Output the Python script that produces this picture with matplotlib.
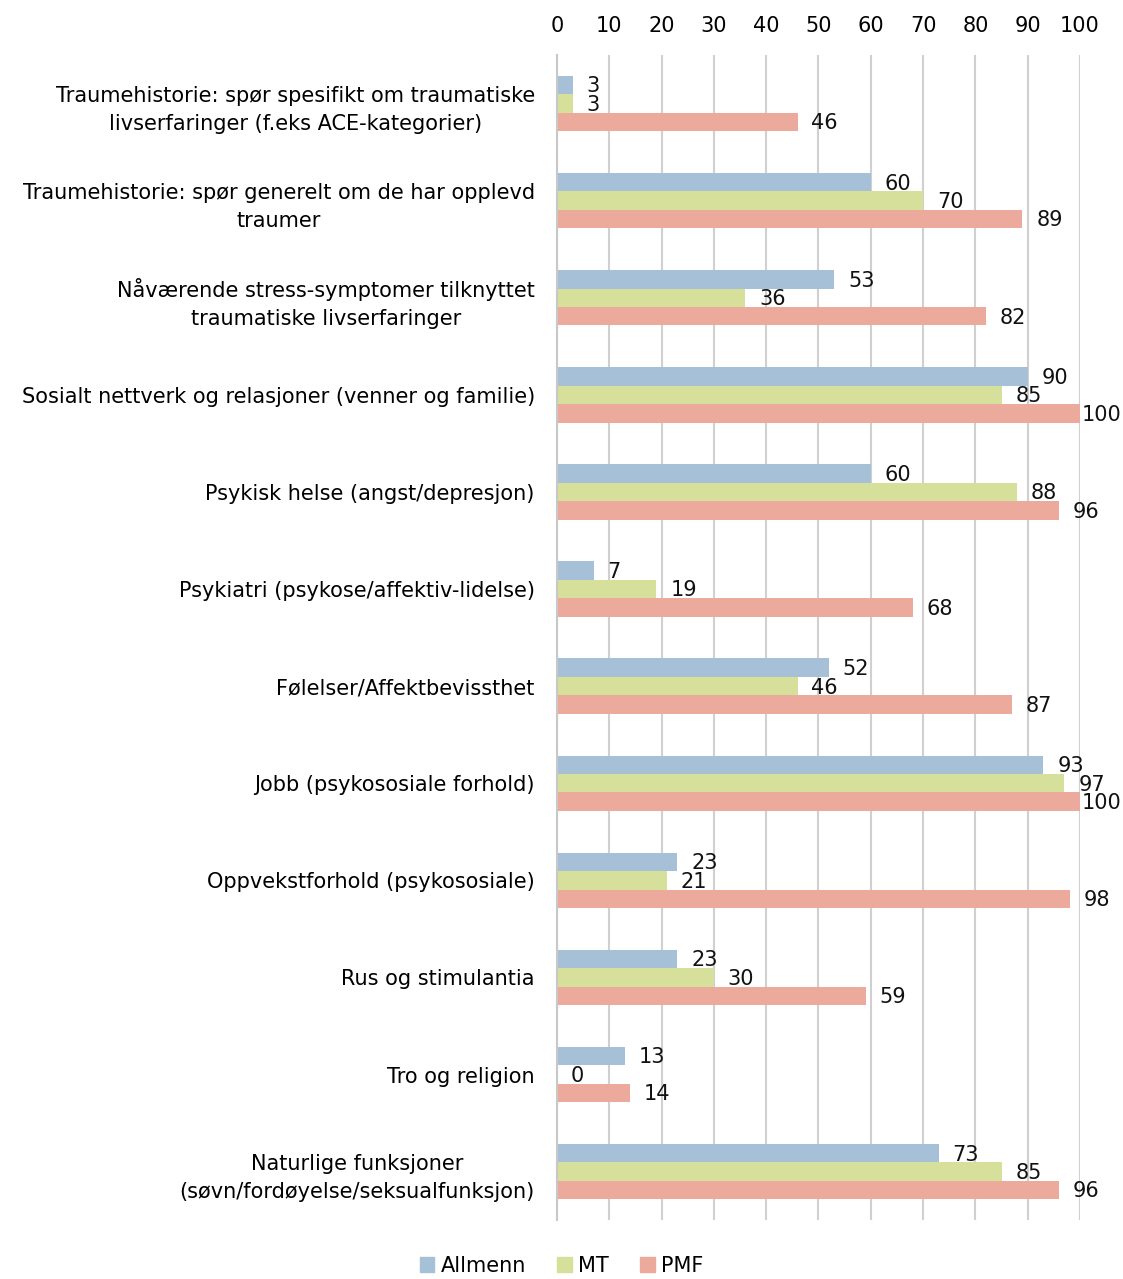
import numpy as np
import matplotlib
matplotlib.use("Agg")
import matplotlib.pyplot as plt

# data
categories = [
    "Traumehistorie: spør spesifikt om traumatiske\nlivserfaringer (f.eks ACE-kategorier)",
    "Traumehistorie: spør generelt om de har opplevd\ntraumer",
    "Nåværende stress-symptomer tilknyttet\ntraumatiske livserfaringer",
    "Sosialt nettverk og relasjoner (venner og familie)",
    "Psykisk helse (angst/depresjon)",
    "Psykiatri (psykose/affektiv-lidelse)",
    "Følelser/Affektbevissthet",
    "Jobb (psykososiale forhold)",
    "Oppvekstforhold (psykososiale)",
    "Rus og stimulantia",
    "Tro og religion",
    "Naturlige funksjoner\n(søvn/fordøyelse/seksualfunksjon)",
]
allmenn = [3, 60, 53, 90, 60, 7, 52, 93, 23, 23, 13, 73]
mt = [3, 70, 36, 85, 88, 19, 46, 97, 21, 30, 0, 85]
pmf = [46, 89, 82, 100, 96, 68, 87, 100, 98, 59, 14, 96]

series = [("Allmenn", allmenn, "#A5C0D7"),
          ("MT", mt, "#D6E09B"),
          ("PMF", pmf, "#ECAA9C")]

plt.rcParams['font.family'] = ['DejaVu Sans']

fig = plt.figure(figsize=(11.23, 12.79), dpi=100)
ax = fig.add_axes([0.496, 0.046, 0.4657, 0.911])

y = np.arange(len(categories))
h = 0.19
for i, (name, vals, col) in enumerate(series):
    pos = y + (i - 1) * h
    ax.barh(pos, vals, height=h, color=col, label=name, zorder=2)
    for yy, v in zip(pos, vals):
        # labels at the right edge are pushed in like in Excel
        off = 1 if v >= 100 else 10
        ax.annotate(str(v), (v, yy), xytext=(off, -1), textcoords="offset points",
                    ha="left", va="center", fontsize=15, color="#111111",
                    annotation_clip=False)

ax.set_xlim(0, 100)
ax.set_ylim(len(categories) - 0.5, -0.5)
ax.set_xticks(range(0, 101, 10))
ax.xaxis.tick_top()
ax.tick_params(axis="x", length=0, pad=14, labelsize=15)
ax.set_yticks(y)
ax.set_yticklabels(categories, fontsize=15, multialignment="center", linespacing=1.5)
ax.tick_params(axis="y", length=0, pad=16)

ax.grid(axis="x", color="#D0D0D0", linewidth=1.5, zorder=0)
for s in ["top", "right", "bottom"]:
    ax.spines[s].set_visible(False)
ax.spines["left"].set_color("#C8C8C8")
ax.spines["left"].set_linewidth(1.5)

handles = [plt.Rectangle((0, 0), 1, 1, color=c) for _, _, c in series]
fig.legend(handles, [n for n, _, _ in series], loc="lower center",
           bbox_to_anchor=(0.5, -0.012), ncol=3, frameon=False, fontsize=15,
           handlelength=0.7, handleheight=0.7, handletextpad=0.3, columnspacing=1.5)

fig.savefig("out.png", dpi=100)
